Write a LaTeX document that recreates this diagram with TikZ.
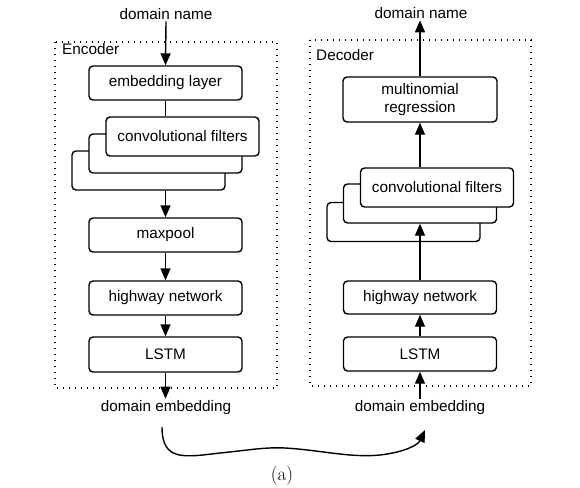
\documentclass[tikz,border=0pt]{standalone}
\usepackage{fontspec}
\setmainfont{Liberation Sans}
\newfontfamily\lmfont{Latin Modern Roman}
\usetikzlibrary{arrows.meta}
\begin{document}
\begin{tikzpicture}[x=1pt,y=-1pt,
  every node/.style={font=\fontsize{15.3}{18}\selectfont},
  blk/.style={draw, line width=1.4pt, rounded corners=4pt, fill=white, minimum width=153pt, minimum height=34pt, inner sep=0pt, align=center},
  conn/.style={line width=1.4pt},
  arr/.style={line width=1.4pt, -{Triangle[length=12pt,width=10pt]}},
  grp/.style={line width=1.1pt, dash pattern=on 1.1pt off 4.9pt},
  lbl/.style={inner sep=1pt}
]
\useasboundingbox (0,0) rectangle (580,487);
% groups
\draw[grp] (55,42) rectangle (277,388);
\draw[grp] (310,40) rectangle (531,386);
\node[anchor=base west, inner sep=0pt] (enc) at (62,55) {Encoder};
\node[anchor=base west, inner sep=0pt] (dec) at (316,60) {Decoder};

% Encoder
\node[lbl, anchor=base] (dn1) at (166,20) {domain name};
\node[blk] (emb) at (165.5,83) {embedding layer};
\node[blk, minimum height=39pt] (ec3) at (148.5,170.5) {};
\node[blk, minimum height=39pt] (ec2) at (165.5,153.5) {};
\node[blk, minimum height=39pt] (ec1) at (182.5,136.5) {convolutional filters};
\node[blk] (mp) at (165.5,235) {maxpool};
\node[blk] (ehw) at (165.5,298) {highway network};
\node[blk, minimum height=35pt] (elstm) at (165.5,354.5) {LSTM};
\node[lbl, anchor=base] (de1) at (166,411) {domain embedding};

\draw[arr] (dn1.south) -- (emb.north);
\draw[conn] (emb.south) -- (emb.south |- ec1.north);
\draw[arr] (emb.south |- ec3.south) -- (mp.north);
\draw[arr] (mp.south) -- (ehw.north);
\draw[arr] (ehw.south) -- (elstm.north);
\draw[arr] (elstm.south) -- (elstm.south |- de1.north);

% Decoder
\node[lbl, anchor=base] (dn2) at (421,19) {domain name};
\node[blk, minimum width=154pt, minimum height=45pt] (mr) at (420,99.5) {multinomial\\regression};
\node[blk, minimum height=39pt] (dc3) at (403.5,222) {};
\node[blk, minimum height=39pt] (dc2) at (420,203.5) {};
\node[blk, minimum height=39pt] (dc1) at (437,187.5) {convolutional filters};
\node[blk, minimum height=33pt] (dhw) at (420,297.5) {highway network};
\node[blk] (dlstm) at (420,354) {LSTM};
\node[lbl, anchor=base] (de2) at (420,411) {domain embedding};

\draw[arr] (mr.north) -- (mr.north |- dn2.south);
\draw[arr] (mr.south |- dc1.north) -- (mr.south);
\draw[arr] (dhw.north) -- (dc2.south);
\draw[arr] (dlstm.north) -- (dhw.south);
\draw[arr] (dlstm.south |- de2.north) -- (dlstm.south);

% curve
\coordinate (cs) at (162,427);
\coordinate (ce) at (425,430);
\draw[line width=1.4pt, -{Triangle[length=12pt,width=10pt]}]
  (cs) .. controls (162,462) and (185,457) .. (220,453)
       .. controls (250,450) and (265,447) .. (285,448)
       .. controls (320,450) and (350,458) .. (380,455)
       .. controls (405,452) and (418,445) .. (ce);

\node[inner sep=0pt] (cap) at (282,476) {\lmfont\fontsize{19}{22}\selectfont (a)};
\end{tikzpicture}
\end{document}
